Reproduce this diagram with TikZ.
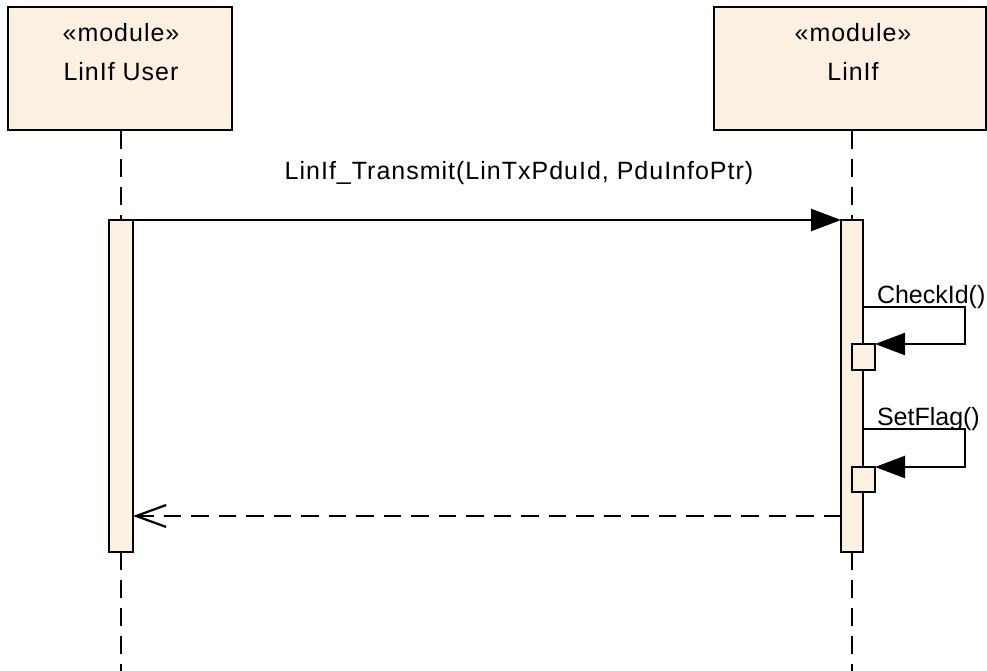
\documentclass[tikz,border=0pt]{standalone}
\usepackage{fontspec}
\setmainfont{Liberation Sans}[LetterSpace=4.0]
\newfontfamily\tightfont{Liberation Sans}
\usetikzlibrary{arrows.meta}
\definecolor{modfill}{RGB}{251,240,226}
\tikzset{
  every node/.style={inner sep=0pt, outer sep=0pt},
  modbox/.style={draw=black, line width=2.2pt, fill=modfill, rectangle},
  actbar/.style={draw=black, line width=2.2pt, fill=modfill, rectangle},
  lbl/.style={font=\fontsize{25}{30}\selectfont, anchor=base},
  selflbl/.style={font=\tightfont\fontsize{25}{30}\selectfont, anchor=base west},
  lifeline/.style={line width=2.2pt, dash pattern=on 18pt off 10pt},
  callmsg/.style={line width=2.2pt, -{Triangle[length=30pt,width=22pt]}},
  retmsg/.style={line width=2.2pt, dash pattern=on 17.5pt off 10pt, -{Straight Barb[length=30pt,width=22pt,line width=2.2pt]}},
}
\begin{document}
\begin{tikzpicture}[x=1pt,y=-1pt]
\useasboundingbox (0,0) rectangle (987,671);
% module boxes
\node[modbox, minimum width=224pt, minimum height=123pt] (user) at (120,68.5) {};
\node[modbox, minimum width=272pt, minimum height=123pt] (linif) at (850,68.5) {};
\node[lbl] (userst) at (121,42) {«module»};
\node[lbl] (username) at (121,81) {LinIf User};
\node[lbl] (linifst) at (853,42) {«module»};
\node[lbl] (linifname) at (853,81) {LinIf};
% activation bars
\node[actbar, minimum width=24pt, minimum height=332pt] (ubar) at (121,386) {};
\node[actbar, minimum width=22pt, minimum height=332pt] (lbar) at (852,386) {};
% lifeline ends
\coordinate (uend) at (121,671);
\coordinate (lend) at (852,671);
\draw[lifeline] (121,131) -- (ubar.north);
\draw[lifeline] (ubar.south) -- (uend);
\draw[lifeline] (852,131) -- (lbar.north);
\draw[lifeline] (lbar.south) -- (lend);
% call message
\draw[callmsg] (ubar.north east) -- (lbar.north west);
\node[lbl] (calllbl) at (519,179) {LinIf\_Transmit(LinTxPduId, PduInfoPtr)};
% self call CheckId
\node[actbar, minimum width=23pt, minimum height=26pt] (chk) at (863.5,357) {};
\coordinate (c1a) at (lbar.east |- 0,307);
\coordinate (c1b) at (965,307);
\coordinate (c1c) at (965,344);
\draw[callmsg] (c1a) -- (c1b) -- (c1c) -- (chk.north east);
\node[selflbl] (chklbl) at (877,303) {CheckId()};
% self call SetFlag
\node[actbar, minimum width=23pt, minimum height=25pt] (flg) at (863.5,479.5) {};
\coordinate (c2a) at (lbar.east |- 0,429);
\coordinate (c2b) at (965,429);
\coordinate (c2c) at (965,467);
\draw[callmsg] (c2a) -- (c2b) -- (c2c) -- (flg.north east);
\node[selflbl] (flglbl) at (877,425) {SetFlag()};
% return message
\coordinate (r1) at (lbar.west |- 0,516);
\coordinate (r2) at (ubar.east |- 0,516);
\draw[retmsg] (r1) -- (r2);
\end{tikzpicture}
\end{document}
